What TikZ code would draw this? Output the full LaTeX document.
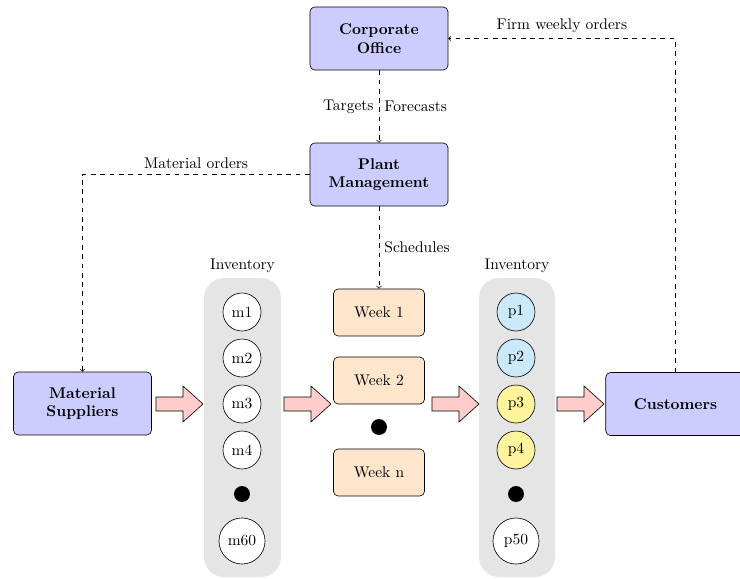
\documentclass[tikz,border=0pt]{standalone}
\usetikzlibrary{calc}
\definecolor{stockblue}{RGB}{202,234,250}
\definecolor{stockyellow}{RGB}{255,244,158}
\begin{document}
\begin{tikzpicture}[x=0.645pt,y=-0.645pt,
  bigbox/.style={draw, fill=blue!20, rounded corners=3pt, align=center,
    font=\bfseries, minimum width=89pt, minimum height=40.6pt, inner sep=2pt},
  weekbox/.style={draw, fill=orange!20, rounded corners=3pt,
    minimum width=58.7pt, minimum height=30.3pt},
  item/.style={draw, circle, fill=white, minimum size=24.5pt, inner sep=0pt},
  bigitem/.style={item, minimum size=29.7pt},
  dot/.style={circle, fill=black, minimum size=10.3pt, inner sep=0pt},
  column/.style={fill=black!10, rounded corners=13pt},
  dline/.style={draw, dashed, ->},
  fatarrow/.pic={\draw[fill=red!20] (0,-7) -- (27,-7) -- (27,-18) -- (47,0)
    -- (27,18) -- (27,7) -- (0,7) -- cycle;}
]
\useasboundingbox (0,0) rectangle (740,578);
\clip (0,0) rectangle (740,578);

% inventory columns
\fill[column] (204,278) rectangle (281,577);
\fill[column] (479,278) rectangle (555,577);
\node[anchor=south, inner sep=3pt] (inv1) at (242.5,278) {Inventory};
\node[anchor=south, inner sep=3pt] (inv2) at (517,278) {Inventory};

% management boxes
\node[bigbox] (corp) at (379,38.5) {Corporate\\Office};
\node[bigbox] (plant) at (379,174.5) {Plant\\Management};
\node[bigbox] (ms) at (82.5,403.5) {Material\\Suppliers};
\node[bigbox, minimum width=90pt] (cust) at (675.5,404) {Customers};

% raw material inventory
\node[item] (m1) at (242,312) {m1};
\node[item] (m2) at (242,358) {m2};
\node[item] (m3) at (242,404) {m3};
\node[item] (m4) at (242,450) {m4};
\node[dot] (mdot) at (242,494) {};
\node[bigitem] (m60) at (242,541) {m60};

% weekly schedules
\node[weekbox] (w1) at (379,312.5) {Week 1};
\node[weekbox] (w2) at (379,380.5) {Week 2};
\node[dot] (wdot) at (379,427) {};
\node[weekbox] (wn) at (379,472.5) {Week n};

% product inventory
\node[item, fill=stockblue] (p1) at (516,312) {p1};
\node[item, fill=stockblue] (p2) at (516,358) {p2};
\node[item, fill=stockyellow] (p3) at (516,404) {p3};
\node[item, fill=stockyellow] (p4) at (516,450) {p4};
\node[dot] (pdot) at (516,494) {};
\node[bigitem] (p50) at (516,541) {p50};

% material flow
\pic at (156,404) {fatarrow};
\pic at (284,404) {fatarrow};
\pic at (432,404) {fatarrow};
\pic at (557,404) {fatarrow};

% information flow
\draw[dline] (corp.south) -- node[left]{Targets} node[right]{Forecasts} (plant.north);
\draw[dline] (plant.south) -- node[right]{Schedules} (w1.north);
\draw[dline] (plant.west) -| node[pos=0.25, above]{Material orders} (ms.north);
\draw[dline] (cust.north) |- node[pos=0.75, above]{Firm weekly orders} (corp.east);
\end{tikzpicture}
\end{document}
